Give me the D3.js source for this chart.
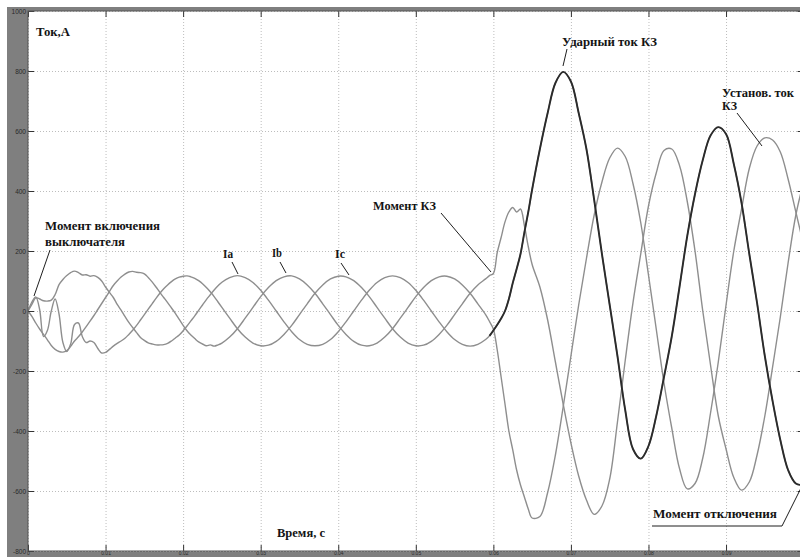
<!DOCTYPE html>
<html>
<head>
<meta charset="utf-8">
<script src="https://cdn.jsdelivr.net/npm/d3@7"></script>
<style>
  body { margin: 0; background: #fff; }
  svg { display: block; }
</style>
</head>
<body>
<svg id="chart" width="800" height="557"></svg>
<script>
// Sample times, s (finer steps around switch-on and the fault)
const time = [
  0,0.0005,0.001,0.0015,0.002,0.0025,0.003,0.0035,0.004,0.0045,0.005,0.0055,0.006,0.0065,0.007,0.0075,0.008,0.0085,0.009,0.0095,
  0.01,0.0105,0.011,0.0115,0.012,0.0125,0.013,0.0135,0.014,0.0145,0.015,0.0155,0.016,0.0165,0.017,0.0175,0.018,0.0185,0.019,0.0195,
  0.02,0.0205,0.021,0.0215,0.022,0.0225,0.023,0.0235,0.024,0.0245,0.025,
  0.026,0.027,0.028,0.029,0.03,0.031,0.032,0.033,0.034,0.035,0.036,0.037,0.038,0.039,0.04,0.041,0.042,0.043,0.044,0.045,
  0.046,0.047,0.048,0.049,0.05,0.051,0.052,0.053,0.054,0.055,0.056,0.057,0.058,0.059,
  0.0595,0.06,0.0605,0.061,0.0615,0.062,0.0625,0.063,0.0635,0.064,0.0645,0.065,
  0.066,0.067,0.068,0.069,0.07,0.071,0.072,0.073,0.074,0.075,0.076,0.077,0.078,0.079,0.08,0.081,0.082,0.083,0.084,0.085,
  0.086,0.087,0.088,0.089,0.09,0.091,0.092,0.093,0.094,0.095,0.096,0.097,0.098,0.099,0.1
];

// Phase currents, A
const currentA = [
  0,22,44,40,34,33,36,55,88,105,118,128,133,128,120,121,116,118,112,100,
  80,62,45,22,3,-18,-38,-55,-72,-88,-98,-106,-110,-113,-113,-112,-108,-100,-90,-80,
  -66,-50,-33,-16,2,20,38,54,70,84,96,
  111,118,111,95,69,36,0,-36,-69,-95,-111,-116,-111,-95,-69,-36,0,36,69,95,
  111,117,111,95,69,36,0,-36,-69,-95,-111,-117,-111,-95,
  -83,-65,-46,-25,0,40,93,140,190,262,330,405,
  540,660,760,797,765,660,540,370,190,20,-150,-330,-460,-492,-450,-350,-220,-85,80,250,
  390,503,585,613,590,490,360,190,27,-150,-300,-430,-530,-575,-580
];
const currentB = [
  0,-18,-40,-60,-78,-96,-115,-128,-135,-137,-132,-118,-100,-86,-70,-52,-34,-15,5,25,
  45,65,85,100,113,123,130,132,129,128,124,112,97,80,62,45,28,10,-8,-28,
  -48,-66,-80,-92,-103,-110,-116,-113,-117,-113,-107,
  -87,-59,-24,12,48,78,101,114,117,107,87,59,24,-12,-48,-78,-101,-114,-116,-107,
  -87,-59,-24,12,48,78,101,114,116,107,87,59,24,-12,
  -35,-60,-130,-220,-310,-400,-463,-530,-580,-620,-660,-690,
  -685,-605,-480,-320,-150,20,175,320,430,510,543,515,425,295,120,-60,-240,-390,-525,-593,
  -575,-490,-340,-170,20,200,340,475,550,577,570,530,440,330,220
];
const currentC = [
  0,30,47,5,-85,-65,0,40,-10,-105,-135,-110,-45,-40,-85,-105,-100,-105,-125,-140,
  -138,-128,-117,-108,-100,-91,-78,-64,-48,-30,-12,6,24,42,59,74,87,98,107,113,
  116,117,114,109,101,91,78,64,48,30,12,
  -24,-59,-87,-107,-116,-114,-101,-78,-48,-12,24,59,87,107,116,114,101,78,48,12,
  -24,-59,-87,-107,-116,-114,-101,-78,-48,-12,24,59,87,107,
  118,125,195,245,297,330,345,330,340,285,215,155,
  80,-30,-170,-310,-440,-550,-630,-678,-650,-560,-370,-165,27,190,350,460,535,540,485,365,
  200,0,-180,-350,-460,-555,-597,-570,-480,-350,-187,-20,160,320,430
];

const faultTime = 0.0595;

const xTicks = [0, 0.01, 0.02, 0.03, 0.04, 0.05, 0.06, 0.07, 0.08, 0.09];
const xTickLabels = ["0", "0.01", "0.02", "0.03", "0.04", "0.05", "0.06", "0.07", "0.08", "0.09"];
const yTicks = [-800, -600, -400, -200, 0, 200, 400, 600, 800, 1000];
const yTickLabels = ["-800", "-600", "-400", "-200", "0", "200", "400", "600", "800", "1000"];

const svg = d3.select("#chart");
const plot = { left: 28, right: 803.6, top: 11, bottom: 551 };
const x = d3.scaleLinear().domain([0, 0.1]).range([plot.left, plot.right]);
const y = d3.scaleLinear().domain([-800, 1000]).range([plot.bottom, plot.top]);

// grey window frame and white axes area
svg.append("rect").attr("x", 7).attr("y", 7).attr("width", 793).attr("height", 550).attr("fill", "#7f7f7f");
svg.append("rect").attr("x", plot.left).attr("y", plot.top)
  .attr("width", plot.right - plot.left).attr("height", plot.bottom - plot.top).attr("fill", "#fff");

svg.append("clipPath").attr("id", "plotClip").append("rect")
  .attr("x", plot.left).attr("y", plot.top)
  .attr("width", plot.right - plot.left).attr("height", plot.bottom - plot.top);

// dotted grid
const gridY = svg.append("g").attr("transform", `translate(${plot.left},0)`)
  .call(d3.axisLeft(y).tickValues(yTicks).tickSize(-(plot.right - plot.left)).tickFormat(""));
const gridX = svg.append("g").attr("transform", `translate(0,${plot.bottom})`)
  .call(d3.axisBottom(x).tickValues(xTicks).tickSize(-(plot.bottom - plot.top)).tickFormat(""));
[gridX, gridY].forEach(g => {
  g.select(".domain").remove();
  g.selectAll(".tick line").attr("stroke", "#bdbdbd").attr("stroke-width", 1).attr("stroke-dasharray", "1,2");
});

// current curves
const clipped = svg.append("g").attr("clip-path", "url(#plotClip)");
const curve = d3.curveCatmullRom.alpha(0.5);
const lineOf = values => d3.line().x((d, i) => x(time[i])).y(d => y(d)).curve(curve)(values);

[currentC, currentB, currentA].forEach(values => {
  clipped.append("path").attr("d", lineOf(values))
    .attr("fill", "none").attr("stroke", "#8e8e8e").attr("stroke-width", 1.4)
    .attr("stroke-linejoin", "round");
});

// phase A after the fault is drawn dark
const afterFault = d3.range(time.length).filter(i => time[i] >= faultTime);
clipped.append("path")
  .attr("d", d3.line().x(i => x(time[i])).y(i => y(currentA[i])).curve(curve)(afterFault))
  .attr("fill", "none").attr("stroke", "#2b2b2b").attr("stroke-width", 1.9)
  .attr("stroke-linejoin", "round");

// axes: ticks pointing inwards on all four sides
const tickStyle = size => g => {
  g.select(".domain").remove();
  g.selectAll(".tick line").attr("stroke", "#333").attr("stroke-width", 1);
  g.selectAll(".tick text").attr("fill", "#2a2a2a").attr("font-family", "Liberation Sans, Arial, sans-serif")
    .attr("font-size", size);
};
svg.append("g").attr("transform", `translate(${plot.left},0)`)
  .call(d3.axisLeft(y).tickValues(yTicks).tickSizeInner(-6).tickSizeOuter(0).tickPadding(2)
    .tickFormat((d, i) => yTickLabels[i]))
  .call(tickStyle(6.5));
svg.append("g").attr("transform", `translate(0,${plot.bottom})`)
  .call(d3.axisBottom(x).tickValues(xTicks).tickSizeInner(-6).tickSizeOuter(0).tickPadding(0.5)
    .tickFormat((d, i) => xTickLabels[i]))
  .call(tickStyle(5));
svg.append("g").attr("transform", `translate(0,${plot.top})`)
  .call(d3.axisTop(x).tickValues(xTicks).tickSizeInner(-6).tickSizeOuter(0).tickFormat(""))
  .call(tickStyle(5));
svg.append("g").attr("transform", `translate(${plot.right},0)`)
  .call(d3.axisRight(y).tickValues(yTicks).tickSizeInner(-6).tickSizeOuter(0).tickFormat(""))
  .call(tickStyle(5));

svg.append("rect").attr("x", plot.left).attr("y", plot.top)
  .attr("width", plot.right - plot.left).attr("height", plot.bottom - plot.top)
  .attr("fill", "none").attr("stroke", "#555").attr("stroke-width", 1);

// labels and pointers
const notes = svg.append("g").attr("font-family", "Liberation Serif, Times New Roman, serif")
  .attr("font-weight", "bold").attr("font-size", 12).attr("fill", "#141414");
const label = (txt, px, py, len) => notes.append("text").attr("x", px).attr("y", py)
  .attr("textLength", len).attr("lengthAdjust", "spacingAndGlyphs").text(txt);

label("Ток,А", 36, 36, 34);
label("Момент включения", 45, 230, 115);
label("выключателя", 45, 246, 80);
label("Ia", 223, 258, 10);
label("Ib", 272, 257, 10);
label("Ic", 335, 258, 10);
label("Момент КЗ", 373, 210, 63);
label("Ударный ток КЗ", 562, 46, 95);
label("Установ. ток", 722, 97, 72);
label("КЗ", 722, 110, 15);
label("Момент отключения", 653, 518, 124);
label("Время, с", 277, 537, 48);

const pointers = [
  [[50, 250], [34, 296]],
  [[232, 262], [238, 274]],
  [[280, 262], [286, 273]],
  [[341, 263], [349, 275]],
  [[441, 213], [491, 272]],
  [[567, 49], [563, 66]],
  [[737, 113], [762, 146]],
  [[652, 526], [782, 526], [803, 484]]
];
pointers.forEach(pts => {
  svg.append("path").attr("d", d3.line()(pts))
    .attr("fill", "none").attr("stroke", "#1e1e1e").attr("stroke-width", 1);
});
</script>
</body>
</html>
